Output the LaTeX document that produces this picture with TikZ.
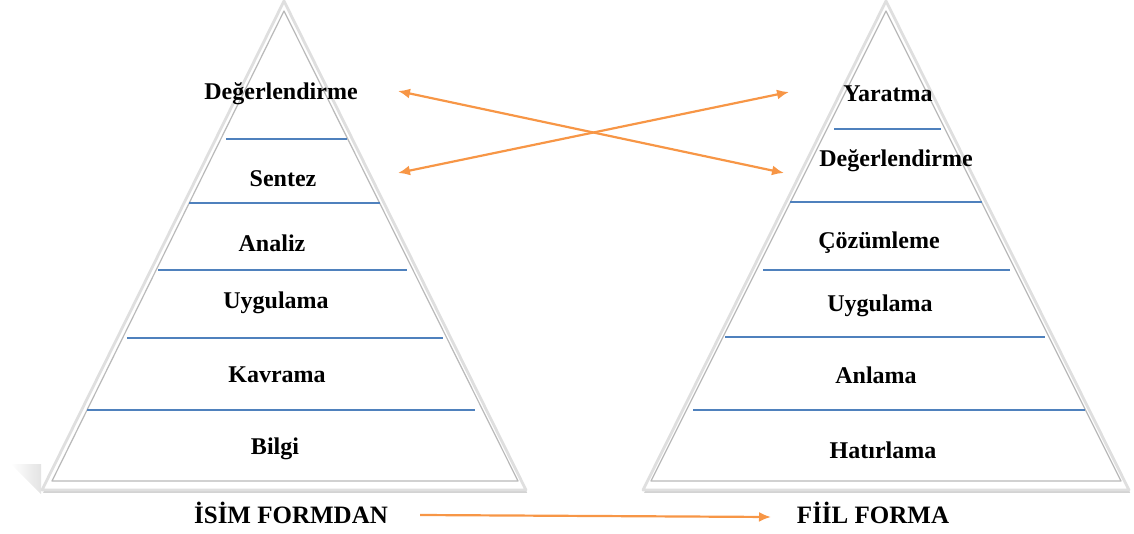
\documentclass[tikz,border=0pt]{standalone}
\usepackage{fontspec}
\setmainfont{Liberation Serif}
\usetikzlibrary{arrows.meta,shadows}
\definecolor{levelblue}{HTML}{4F81BD}
\definecolor{arroworange}{HTML}{F79646}
\begin{document}
\begin{tikzpicture}[x=0.5pt,y=-0.5pt,>={Latex[length=6pt,width=5pt]},
  level node/.style={font=\bfseries\fontsize{12}{14}\selectfont,inner sep=0pt},
  form node/.style={font=\bfseries\fontsize{12.5}{14}\selectfont,inner sep=0pt},
  rim/.style={fill=white,draw=gray!25,line width=1.4pt,line join=round,drop shadow={opacity=0.35,shadow xshift=0.6pt,shadow yshift=-1.4pt}},
  inner rim/.style={draw=gray!55,line width=0.6pt,line join=round},
  level line/.style={draw=levelblue,line width=0.6pt},
  trans/.style={draw=arroworange,line width=1.1pt}]

  \useasboundingbox (0,0) rectangle (1134,534);

  % soft shadow left of the first pyramid
  \shade[left color=white,right color=gray!22] (11,464) -- (41,464) -- (41,494) -- cycle;

  % pyramids
  \path[rim] (284,1) -- (526,490) -- (42,490) -- cycle;
  \draw[inner rim] (284,11) -- (518,481) -- (52,481) -- cycle;
  \path[rim] (886,1) -- (1129,490) -- (643,490) -- cycle;
  \draw[inner rim] (886,11) -- (1121,481) -- (651,481) -- cycle;

  % level separators
  \draw[level line] (226,139) -- (347,139);
  \draw[level line] (189,203) -- (380,203);
  \draw[level line] (158,270) -- (407,270);
  \draw[level line] (127,338) -- (443,338);
  \draw[level line] (87,410) -- (475,410);

  \draw[level line] (834,129) -- (941,129);
  \draw[level line] (790,202) -- (982,202);
  \draw[level line] (763,270) -- (1010,270);
  \draw[level line] (725,337) -- (1045,337);
  \draw[level line] (693,410) -- (1085,410);

  % old taxonomy
  \node[level node] (L6) at (281,94)  {Değerlendirme};
  \node[level node] (L5) at (283,179) {Sentez};
  \node[level node] (L4) at (272,243) {Analiz};
  \node[level node] (L3) at (276,303) {Uygulama};
  \node[level node] (L2) at (277,375) {Kavrama};
  \node[level node] (L1) at (275,449) {Bilgi};

  % revised taxonomy
  \node[level node] (R6) at (888,94)  {Yaratma};
  \node[level node] (R5) at (896,161) {Değerlendirme};
  \node[level node] (R4) at (879,243) {Çözümleme};
  \node[level node] (R3) at (880,306) {Uygulama};
  \node[level node] (R2) at (876,375) {Anlama};
  \node[level node] (R1) at (883,450) {Hatırlama};

  \node[form node] (isim) at (291,513) {İSİM FORMDAN};
  \node[form node] (fiil) at (873,513) {FİİL FORMA};

  % arrow ends
  \coordinate (L6e) at (398,91);
  \coordinate (L5e) at (398,173);
  \coordinate (R6w) at (789,92);
  \coordinate (R5w) at (784,173);
  \coordinate (isime) at (420,515);
  \coordinate (fiilw) at (771,517);

  \draw[trans,<->] (L6e) -- (R5w);
  \draw[trans,<->] (L5e) -- (R6w);
  \draw[trans,->] (isime) -- (fiilw);
\end{tikzpicture}
\end{document}
